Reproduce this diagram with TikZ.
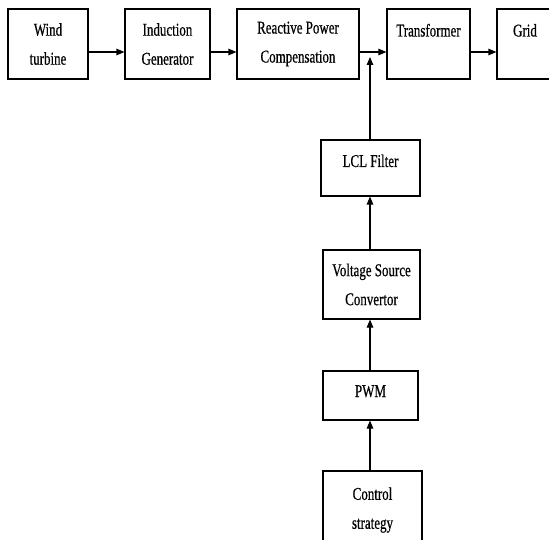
\documentclass[tikz,border=0pt]{standalone}
\usepackage{fontspec}
\setmainfont[FakeStretch=0.72,FakeBold=0.6]{Liberation Serif}
\usetikzlibrary{arrows.meta}
\begin{document}
\begin{tikzpicture}[x=1pt, y=-1pt,
	block/.style={draw, line width=1.1pt, inner sep=0pt, align=center,
		font=\fontsize{18}{29}\selectfont},
	flow/.style={line width=1.1pt, -{Triangle[length=8pt,width=6.5pt]}}]
	\clip (0,0) rectangle (549,540);
	%blocks
	\node[block, minimum width=80pt, minimum height=70pt] (wind) at (48,44) {Wind\\turbine};
	\node[block, minimum width=85pt, minimum height=70pt] (gen) at (167.5,44) {Induction\\Generator};
	\node[block, minimum width=122pt, minimum height=70pt] (comp) at (298,44) {Reactive Power\\Compensation};
	\node[block, minimum width=83pt, minimum height=70pt, text height=12pt, text depth=27pt] (trafo) at (428.5,44) {Transformer};
	\node[block, minimum width=56pt, minimum height=70pt, text height=12pt, text depth=27pt] (grid) at (525,44) {Grid};
	\node[block, minimum width=99pt, minimum height=56pt, text height=12pt, text depth=14pt] (lcl) at (370.5,168) {LCL Filter};
	\node[block, minimum width=97pt, minimum height=69pt] (vsc) at (371.5,284.5) {Voltage Source\\Convertor};
	\node[block, minimum width=95pt, minimum height=49pt, text height=12pt, text depth=9pt] (pwm) at (370.5,395.5) {PWM};
	\node[block, minimum width=99pt, minimum height=78pt] (ctrl) at (372.5,510) {Control\\strategy};
	\coordinate (junc) at (370,57);
	%arrows
	\draw[flow] ([yshift=-8pt]wind.east) -- ([yshift=-8pt]gen.west);
	\draw[flow] ([yshift=-8pt]gen.east) -- ([yshift=-8pt]comp.west);
	\draw[flow] ([yshift=-8pt]comp.east) -- ([yshift=-8pt]trafo.west);
	\draw[flow] ([yshift=-8pt]trafo.east) -- ([yshift=-8pt]grid.west);
	\draw[flow] (lcl.north -| junc) -- (junc);
	\draw[flow] (vsc.north -| junc) -- (lcl.south -| junc);
	\draw[flow] (pwm.north -| junc) -- (vsc.south -| junc);
	\draw[flow] (ctrl.north -| junc) -- (pwm.south -| junc);
\end{tikzpicture}
\end{document}
